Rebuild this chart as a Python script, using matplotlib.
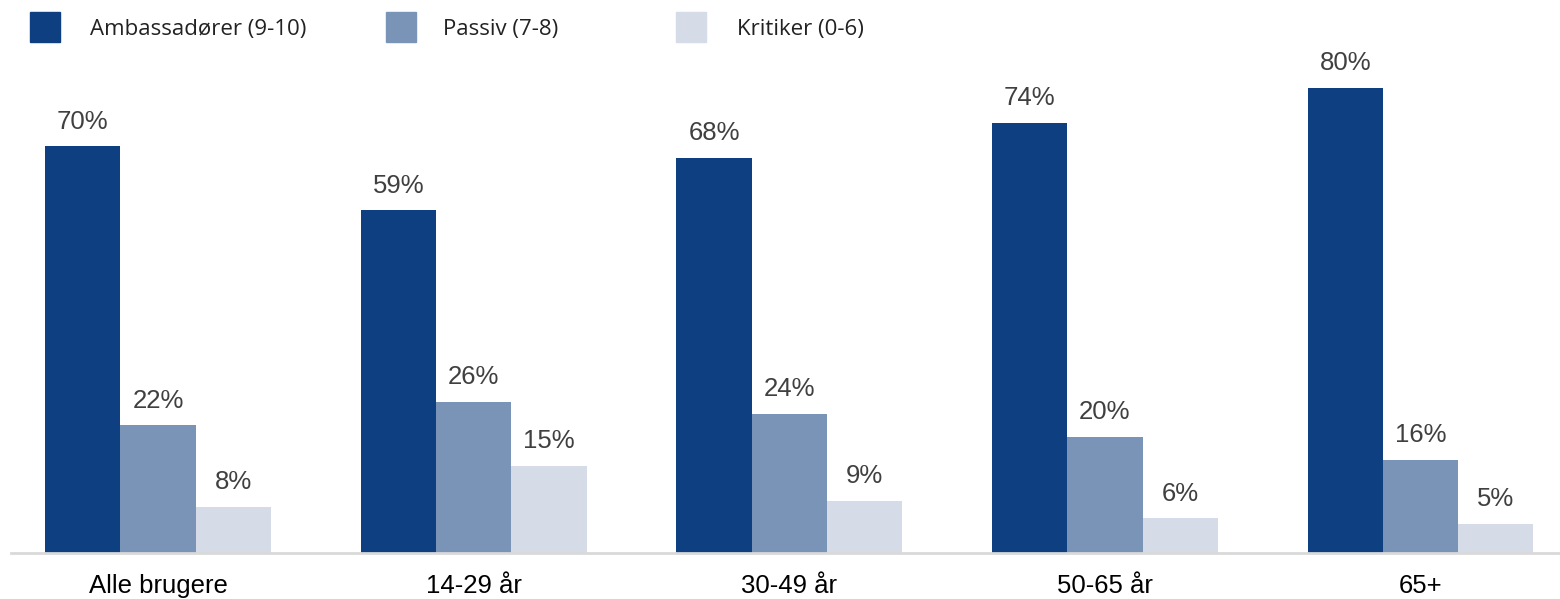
import numpy as np
import matplotlib.pyplot as plt
from matplotlib.patches import Rectangle

# data
groups = ['Alle brugere', '14-29 år', '30-49 år', '50-65 år', '65+']
series = ['Ambassadører (9-10)', 'Passiv (7-8)', 'Kritiker (0-6)']
ambassador = [70, 59, 68, 74, 80]
passive = [22, 26, 24, 20, 16]
critic = [8, 15, 9, 6, 5]
colors = ['#0e4081', '#7a94b8', '#d5dbe7']

plt.rcParams['font.family'] = ['Liberation Sans', 'DejaVu Sans']

fig = plt.figure(figsize=(15.6, 5.99), dpi=100)
# axes from x=11px to right edge, baseline at y=553px
ax = fig.add_axes([11/1560, 1 - 553/599, 1 - 11/1560, (553 - 30)/599])

x = np.arange(len(groups))
w = 0.2385
values = [ambassador, passive, critic]
for i, (vals, c) in enumerate(zip(values, colors)):
    pos = x + (i - 1) * w
    bars = ax.bar(pos, vals, width=w, color=c, label=series[i])
    for b, v in zip(bars, vals):
        ax.annotate(f'{v}%', (b.get_x() + b.get_width()/2, v),
                    xytext=(0, 9), textcoords='offset points',
                    ha='center', va='bottom', fontsize=18.5, color='#404040')

ax.set_xlim(-0.466, 4.442)
ax.set_ylim(0, 523/5.8125)
ax.set_xticks(x)
ax.set_xticklabels(groups, fontsize=18.5, color='#000000')
ax.tick_params(axis='x', length=0, pad=15)
ax.set_yticks([])
for s in ['top', 'right', 'left']:
    ax.spines[s].set_visible(False)
ax.spines['bottom'].set_color('#d9d9d9')
ax.spines['bottom'].set_linewidth(2)

# legend drawn by hand at the top
leg_sq = [30, 386, 676]
leg_txt = [90, 443, 737]
for sx, tx, c, name in zip(leg_sq, leg_txt, colors, series):
    fig.patches.append(Rectangle((sx/1560, 1 - 42/599), 30/1560, 30/599,
                                 transform=fig.transFigure, color=c))
    fig.text(tx/1560, 1 - 29/599, name, fontsize=16, color='#222222',
             va='center', ha='left', family=['Open Sans', 'DejaVu Sans'])

fig.savefig('out.png', dpi=100)
